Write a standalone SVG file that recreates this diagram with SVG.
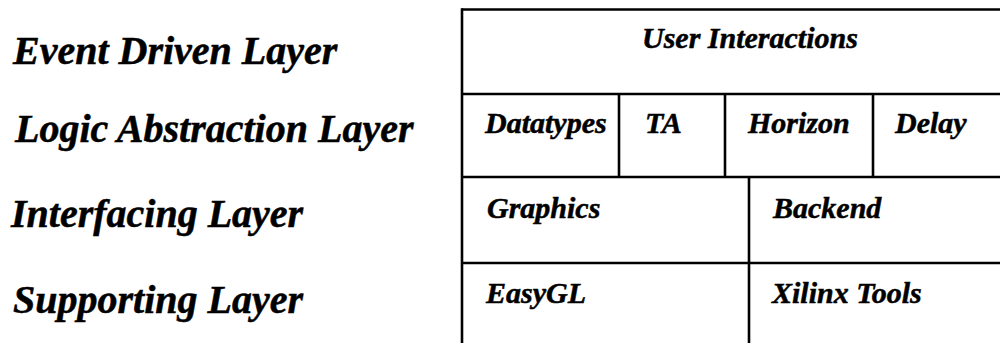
<svg xmlns="http://www.w3.org/2000/svg" width="1000" height="343" viewBox="0 0 1000 343">
  <style>
    .lbl { font-family: "Liberation Serif", "Times New Roman", serif; font-weight: bold; font-style: italic; fill: #000; stroke: #000; stroke-width: 0.5; }
    .layer { font-size: 40px; }
    .cell { font-size: 30px; }
    .grid { stroke: #000; stroke-width: 2.6; fill: none; }
  </style>
  <rect width="1000" height="343" fill="#fff"/>

  <!-- layer names on the left -->
  <g id="layer-event"><text class="lbl layer" x="13" y="64">Event Driven Layer</text></g>
  <g id="layer-logic"><text class="lbl layer" x="15" y="142">Logic Abstraction Layer</text></g>
  <g id="layer-interfacing"><text class="lbl layer" x="11" y="227">Interfacing Layer</text></g>
  <g id="layer-supporting"><text class="lbl layer" x="13" y="313">Supporting Layer</text></g>

  <!-- table grid -->
  <g id="grid" class="grid">
    <line x1="462" y1="9.5" x2="1000" y2="9.5"/>
    <line x1="462" y1="8.2" x2="462" y2="343"/>
    <line x1="462" y1="94" x2="1000" y2="94"/>
    <line x1="462" y1="177" x2="1000" y2="177"/>
    <line x1="462" y1="263" x2="1000" y2="263"/>
    <line x1="619" y1="94" x2="619" y2="177"/>
    <line x1="725" y1="94" x2="725" y2="177"/>
    <line x1="873" y1="94" x2="873" y2="178"/>
    <line x1="749" y1="177" x2="749" y2="343"/>
  </g>

  <!-- cells -->
  <g id="user-interactions"><text class="lbl cell" x="642" y="48">User Interactions</text></g>
  <g id="datatypes"><text class="lbl cell" x="485" y="133">Datatypes</text></g>
  <g id="ta"><text class="lbl cell" x="645" y="133">TA</text></g>
  <g id="horizon"><text class="lbl cell" x="748" y="133">Horizon</text></g>
  <g id="delay"><text class="lbl cell" x="895" y="133">Delay</text></g>
  <g id="graphics"><text class="lbl cell" x="487" y="218">Graphics</text></g>
  <g id="backend"><text class="lbl cell" x="773" y="218">Backend</text></g>
  <g id="easygl"><text class="lbl cell" x="486" y="303">EasyGL</text></g>
  <g id="xilinx-tools"><text class="lbl cell" x="772" y="303">Xilinx Tools</text></g>
</svg>
